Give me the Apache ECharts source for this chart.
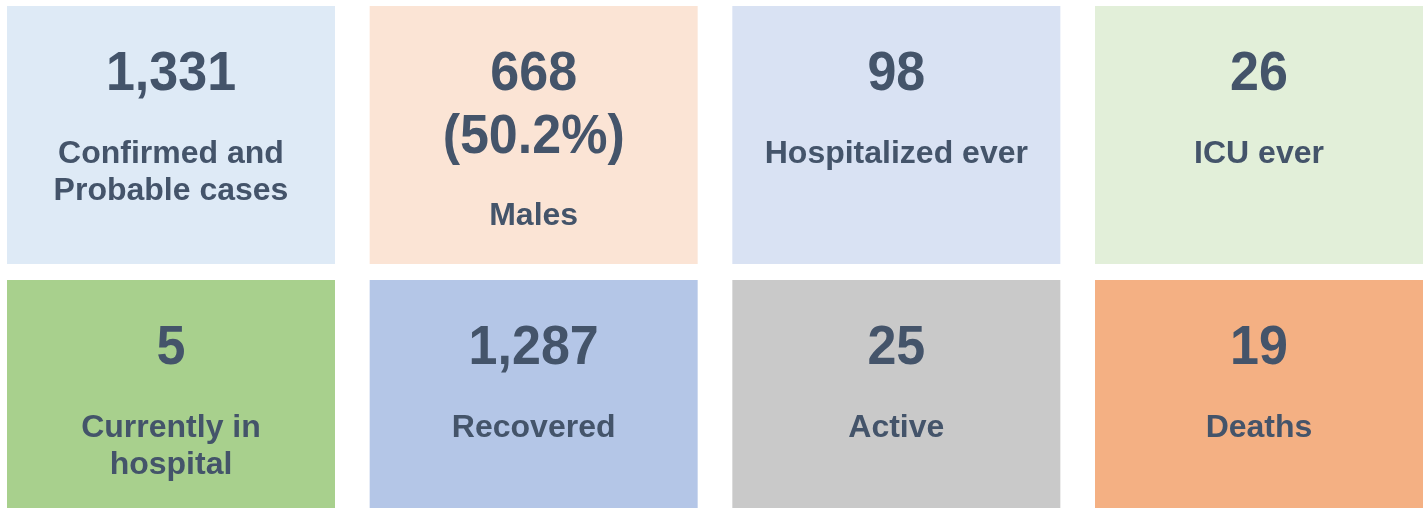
<!DOCTYPE html>
<html>
<head>
<meta charset="utf-8">
<script src="https://cdn.jsdelivr.net/npm/echarts@6/dist/echarts.min.js"></script>
<style>
    html, body { margin: 0; padding: 0; background: #fff; }
    #main { width: 1427px; height: 508px; }
</style>
</head>
<body>
<div id="main"></div>
<script>
    // tile contents, left to right, top to bottom
    var values = ['1,331', '668\n(50.2%)', '98', '26', '5', '1,287', '25', '19'];
    var labels = ['Confirmed and\nProbable cases', 'Males', 'Hospitalized ever', 'ICU ever',
        'Currently in\nhospital', 'Recovered', 'Active', 'Deaths'];
    var tileColors = ['#DEEAF6', '#FBE4D5', '#D9E2F3', '#E2EFD9',
        '#A8D08D', '#B4C6E7', '#C9C9C9', '#F4B083'];

    var textColor = '#44546A';
    var fontFamily = '"Liberation Sans", Arial, sans-serif';

    // [column, row, index]
    var data = [];
    for (var i = 0; i < values.length; i++) {
        data.push([i % 4, Math.floor(i / 4), i]);
    }

    function renderTile(params, api) {
        var idx = api.value(2);
        var c = api.coord([api.value(0), api.value(1)]);
        var w = 328, h = 258;
        var left = c[0] - w / 2, top = c[1] - h / 2;
        var numLines = values[idx].split('\n').length;
        return {
            type: 'group',
            children: [
                {
                    type: 'rect',
                    shape: {x: left, y: top, width: w, height: h},
                    style: {fill: tileColors[idx]}
                },
                {
                    type: 'text',
                    // numbers look a bit taller than wide in the original
                    scaleY: 1.07,
                    originX: c[0],
                    originY: top + 37,
                    style: {
                        text: values[idx],
                        x: c[0], y: top + 37,
                        align: 'center', verticalAlign: 'top',
                        fontSize: 52, fontWeight: 'bold', fontFamily: fontFamily,
                        lineHeight: 59, fill: textColor
                    }
                },
                {
                    type: 'text',
                    style: {
                        text: labels[idx],
                        x: c[0], y: top + 148 + (numLines - 1) * 62 - 18,
                        align: 'center', verticalAlign: 'top',
                        fontSize: 32, fontWeight: 'bold', fontFamily: fontFamily,
                        lineHeight: 37, fill: textColor
                    }
                }
            ]
        };
    }

    var chart = echarts.init(document.getElementById('main'));
    chart.setOption({
        animation: false,
        // grid spans tile centres: first/last column, top/bottom row
        grid: {left: 171, right: 168, top: 135, bottom: 99},
        xAxis: {type: 'value', min: 0, max: 3, show: false},
        yAxis: {type: 'value', min: 0, max: 1, inverse: true, show: false},
        series: [{
            type: 'custom',
            silent: true,
            clip: false,
            renderItem: renderTile,
            data: data
        }]
    });
</script>
</body>
</html>
